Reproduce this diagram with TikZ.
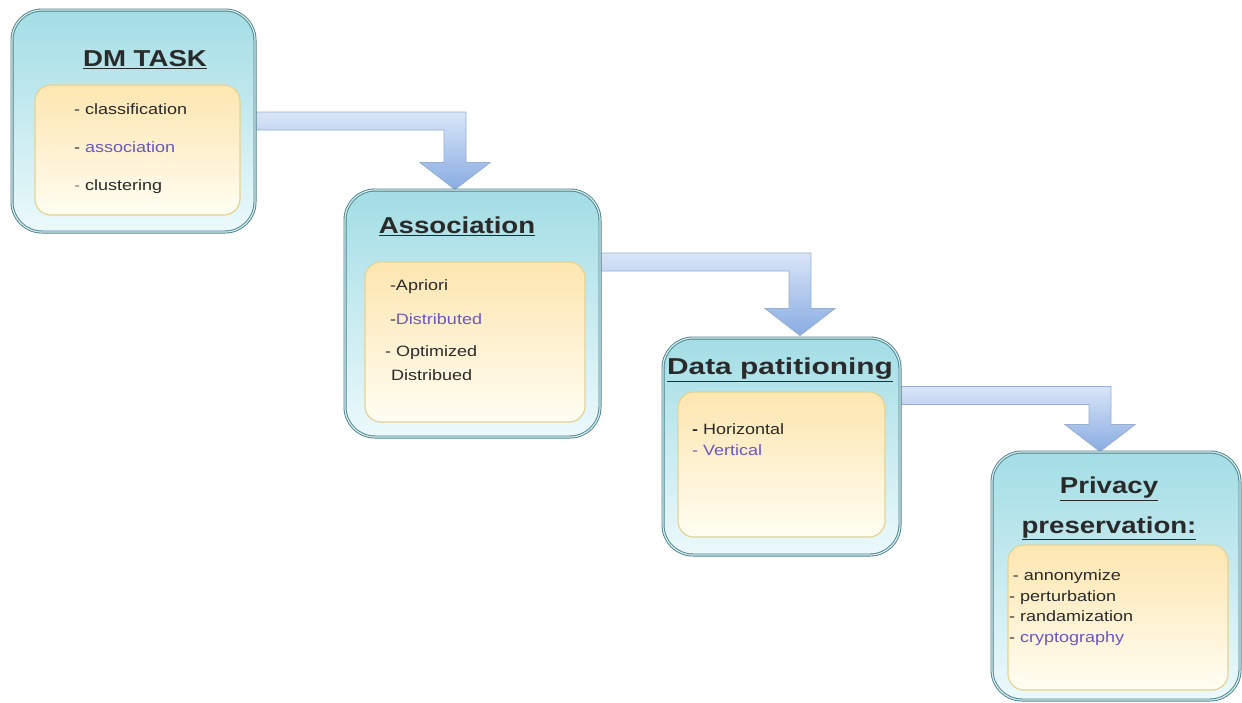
\documentclass[tikz,border=0pt]{standalone}
\usepackage{fontspec}
\setmainfont{Liberation Sans}
\usepackage{graphicx}
\usetikzlibrary{calc,backgrounds}

\definecolor{boxline}{HTML}{4D8088}
\definecolor{boxdouble}{HTML}{D2EEF2}
\definecolor{cyantop}{HTML}{A3DDE5}
\definecolor{cyanbot}{HTML}{ECF9FB}
\definecolor{creamtop}{HTML}{FDE6B0}
\definecolor{creambot}{HTML}{FFFDF2}
\definecolor{creamline}{HTML}{E4D394}
\definecolor{ink}{HTML}{2A2A2A}
\definecolor{violet}{HTML}{6A58C0}
\definecolor{arrowtop}{HTML}{D9E5F8}
\definecolor{arrowbot}{HTML}{88ACE2}
\definecolor{arrowline}{HTML}{98AECF}

% stretched sans text, as in the original drawing
\newcommand{\wide}[1]{\scalebox{1.2}[1]{#1}}
% bent block arrow: start on a box edge, tip on the next box
\newcommand{\flowarrow}[2]{%
  \path[flow] let \p1=(#1), \p2=(#2) in
    (\x1,\y1+9pt) -- (\x2+11pt,\y1+9pt) -- (\x2+11pt,\y2+27pt) -- (\x2+35pt,\y2+27pt)
    -- (\x2,\y2) -- (\x2-35pt,\y2+27pt) -- (\x2-11pt,\y2+27pt) -- (\x2-11pt,\y1-9pt)
    -- (\x1,\y1-9pt) -- cycle;}

\begin{document}
\begin{tikzpicture}[x=1pt,y=1pt,
  outerbox/.style={draw=boxline,line width=0.9pt,double=boxdouble,double distance=1.2pt,
    rounded corners=30pt,top color=cyantop,bottom color=cyanbot,inner sep=0pt},
  innerbox/.style={draw=creamline,line width=1.2pt,rounded corners=16pt,
    top color=creamtop,bottom color=creambot,inner sep=0pt},
  title/.style={font=\fontsize{23}{27.6}\selectfont\bfseries,text=ink,inner sep=0pt},
  items/.style={font=\fontsize{15}{18}\selectfont,text=ink,inner sep=0pt,anchor=north west},
  flow/.style={draw=arrowline,line width=0.8pt,top color=arrowtop,bottom color=arrowbot}]
  \useasboundingbox (0,0) rectangle (1242,-702);

  % task boxes
  \node[outerbox,minimum width=243pt,minimum height=222pt] (dm) at (133.5,-121) {};
  \node[innerbox,minimum width=205pt,minimum height=130pt] (dmin) at (137.5,-150) {};
  \node[title] (dmtitle) at (145,-60) {\wide{\underline{DM TASK}}};
  \node[items] (dmlist) at (74,-102) {\wide{\begin{tabular}{@{}l@{}}
    - classification\\[20pt]
    - \textcolor{violet}{association}\\[20pt]
    \textcolor{gray}{-} clustering\end{tabular}}};

  \node[outerbox,minimum width=255pt,minimum height=247pt] (assoc) at (472.5,-313.5) {};
  \node[innerbox,minimum width=220pt,minimum height=160pt] (associn) at (475,-342) {};
  \node[title] (assoctitle) at (457,-226) {\wide{\underline{Association}}};
  \node[items] (assoclist) at (385,-278) {\wide{\begin{tabular}{@{}l@{}}
    \hspace{4pt}-Apriori\\[16pt]
    \hspace{4pt}-\textcolor{violet}{Distributed}\\[14pt]
    - Optimized\\[6pt]
    \hspace{5pt}Distribued\end{tabular}}};

  \node[outerbox,minimum width=237pt,minimum height=217pt] (part) at (781.5,-446.5) {};
  \node[innerbox,minimum width=207pt,minimum height=145pt] (partin) at (781.5,-464.5) {};
  \node[title] (parttitle) at (780,-370) {\scalebox{1.3}[1]{\underline{Data patitioning}}};
  \node[items] (partlist) at (692,-422) {\wide{\begin{tabular}{@{}l@{}}
    \textbf{-} Horizontal\\[3pt]
    \textcolor{violet}{- Vertical}\end{tabular}}};

  \node[outerbox,minimum width=248pt,minimum height=248pt] (priv) at (1116,-576) {};
  \node[innerbox,minimum width=220pt,minimum height=145pt] (privin) at (1118,-617.5) {};
  \node[title] (privtitle) at (1109,-508) {\wide{\begin{tabular}{@{}c@{}}
    \underline{Privacy}\\[12pt]
    \underline{preservation:}\end{tabular}}};
  \node[items] (privlist) at (1009,-568) {\wide{\begin{tabular}{@{}l@{}}
    \hspace{3pt}- annonymize\\[2.5pt]
    - perturbation\\[2.5pt]
    - randamization\\[2.5pt]
    - \textcolor{violet}{cryptography}\end{tabular}}};

  % block arrows behind the boxes
  \begin{scope}[on background layer]
    \fill[white] (0,0) rectangle (1242,-702);
    \flowarrow{dm.east}{$(assoc.north)+(-17.5,0)$}
    \flowarrow{$(assoc.east)+(0,51.5)$}{$(part.north)+(18.5,2)$}
    \flowarrow{$(part.east)+(0,51)$}{$(priv.north)+(-16,0)$}
  \end{scope}
\end{tikzpicture}
\end{document}
